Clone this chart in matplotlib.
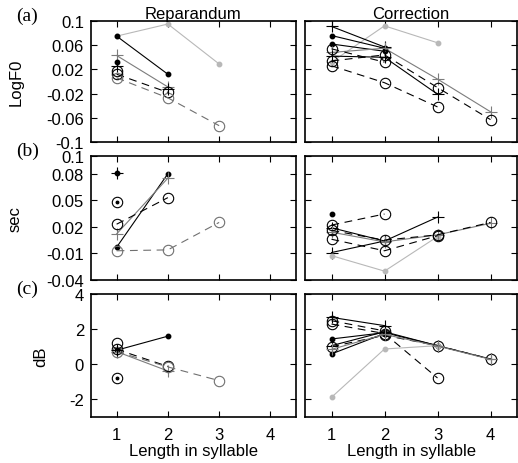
import numpy as np
import matplotlib
matplotlib.use("Agg")
from matplotlib import pyplot as plt

nan = np.nan

LENGTH = [1, 2, 3, 4]
XTICKS = [1, 2, 3, 4]
XTICKLABELS = ["1", "2", "3", "4"]
COLUMNS = ["Reparandum", "Correction"]
ROW_TAGS = ["(a)", "(b)", "(c)"]
ROW_UNITS = ["LogF0", "sec", "dB"]
XLABEL = "Length in syllable"

F0_TICKS = [-0.1, -0.06, -0.02, 0.02, 0.06, 0.1]
F0_TICKLABELS = ["-0.1", "-0.06", "-0.02", "0.02", "0.06", "0.1"]
DUR_TICKS = [-0.04, -0.01, 0.02, 0.05, 0.08, 0.1]
DUR_TICKLABELS = ["-0.04", "-0.01", "0.02", "0.05", "0.08", "0.1"]
DB_TICKS = [-2, 0, 2, 4]
DB_TICKLABELS = ["-2", "0", "2", "4"]

# (a) LogF0 - reparandum
f0_rep_gdot = [0.075, 0.095, 0.029, nan]
f0_rep_kdot = [0.075, 0.012, nan, nan]
f0_rep_gplus = [0.043, -0.009, nan, nan]
f0_rep_kcirc = [0.012, -0.018, nan, nan]
f0_rep_gcirc = [0.006, -0.027, -0.073, nan]
f0_rep_kdot_pt = [0.032, nan, nan, nan]
f0_rep_kplus_pt = [0.026, -0.012, nan, nan]
f0_rep_circ_pt = [0.018, nan, nan, nan]

# (a) LogF0 - correction
f0_cor_gdot = [0.032, 0.092, 0.064, nan]
f0_cor_kplus = [0.091, 0.057, nan, nan]
f0_cor_kdot = [0.076, 0.055, nan, nan]
f0_cor_kdot2 = [0.062, 0.050, nan, nan]
f0_cor_gplus = [0.048, 0.055, 0.004, -0.050]
f0_cor_kplus2 = [0.042, 0.040, -0.021, nan]
f0_cor_kcirc = [0.034, 0.044, -0.010, -0.063]
f0_cor_kcirc2 = [0.026, -0.002, -0.042, nan]
f0_cor_kcirc3 = [0.054, 0.032, nan, nan]

# (b) duration - reparandum
dur_rep_kdot = [-0.003, 0.080, nan, nan]
dur_rep_gplus = [0.012, 0.075, nan, nan]
dur_rep_kcirc = [0.023, 0.053, nan, nan]
dur_rep_gcirc = [-0.007, -0.006, 0.025, nan]
dur_rep_kdot_pt = [0.081, nan, nan, nan]
dur_rep_cdot_pt = [0.048, nan, nan, nan]

# (b) duration - correction
dur_cor_kdot_pt = [0.0345, nan, nan, nan]
dur_cor_kcirc = [0.022, 0.0345, nan, nan]
dur_cor_kplus = [-0.009, 0.004, 0.031, nan]
dur_cor_gdot = [-0.0125, -0.030, 0.009, nan]
dur_cor_kplus2 = [0.019, 0.004, nan, nan]
dur_cor_gplus = [0.014, 0.003, 0.011, 0.024]
dur_cor_kcirc2 = [0.006, -0.007, 0.010, nan]
dur_cor_kcirc3 = [0.016, 0.005, 0.011, 0.025]

# (c) intensity - reparandum
db_rep_kdot = [0.80, 1.60, nan, nan]
db_rep_gplus = [0.72, -0.38, nan, nan]
db_rep_kcirc = [0.85, -0.12, nan, nan]
db_rep_gcirc = [0.72, -0.15, -0.93, nan]
db_rep_circ_pt = [1.19, nan, nan, nan]
db_rep_kplus_pt = [0.80, nan, nan, nan]
db_rep_cdot_pt = [-0.78, nan, nan, nan]

# (c) intensity - correction
db_cor_kplus = [2.67, 2.20, nan, nan]
db_cor_kcirc = [2.48, 1.90, nan, nan]
db_cor_kcirc2 = [2.29, 1.75, -0.78, nan]
db_cor_kdot = [1.44, 1.80, 1.06, nan]
db_cor_kplus2 = [1.06, 1.85, 1.06, 0.30]
db_cor_kdot2 = [0.59, 1.75, nan, nan]
db_cor_gdot = [-1.88, 0.87, 1.06, nan]
db_cor_kcirc3 = [1.00, 1.65, 1.06, 0.30]
db_cor_gplus = [0.85, 1.70, 1.04, 0.28]

DASH = (0, (7, 5))
STYLES = {
    "kdot": dict(color="k", ls="-", marker="o", ms=3.2, mfc="k", mec="k"),
    "gdot": dict(color="#b8b8b8", ls="-", marker="o", ms=3.2, mfc="#b8b8b8", mec="#b8b8b8"),
    "kplus": dict(color="k", ls="-", marker="+", ms=8, mew=0.8),
    "gplus": dict(color="#7c7c7c", ls="-", marker="+", ms=8, mew=0.8),
    "kcirc": dict(color="k", ls=DASH, marker="o", ms=7.5, mfc="none", mew=0.8),
    "gcirc": dict(color="#707070", ls=DASH, marker="o", ms=7.5, mfc="none", mew=0.8),
    "kdot_pt": dict(color="k", ls="none", marker="o", ms=3.2),
    "ctr_pt": dict(color="k", ls="none", marker="o", ms=1.8),
    "kplus_pt": dict(color="k", ls="none", marker="+", ms=8, mew=0.8),
    "circ_pt": dict(color="k", ls="none", marker="o", ms=7.5, mfc="none", mew=0.8),
}

panels = [
    [[(f0_rep_gdot, "gdot"), (f0_rep_kdot, "kdot"), (f0_rep_gplus, "gplus"),
      (f0_rep_kcirc, "kcirc"), (f0_rep_gcirc, "gcirc"), (f0_rep_kdot_pt, "kdot_pt"),
      (f0_rep_kplus_pt, "kplus_pt"), (f0_rep_circ_pt, "circ_pt")],
     [(f0_cor_gdot, "gdot"), (f0_cor_kplus, "kplus"), (f0_cor_kdot, "kdot"),
      (f0_cor_kdot2, "kdot"), (f0_cor_gplus, "gplus"), (f0_cor_kplus2, "kplus"),
      (f0_cor_kcirc, "kcirc"), (f0_cor_kcirc2, "kcirc"), (f0_cor_kcirc3, "kcirc")]],
    [[(dur_rep_kdot, "kdot"), (dur_rep_gplus, "gplus"), (dur_rep_kcirc, "kcirc"),
      (dur_rep_gcirc, "gcirc"), (dur_rep_kdot_pt, "kdot_pt"), (dur_rep_kdot_pt, "kplus_pt"),
      (dur_rep_cdot_pt, "circ_pt"), (dur_rep_cdot_pt, "ctr_pt")],
     [(dur_cor_kdot_pt, "kdot_pt"), (dur_cor_kcirc, "kcirc"), (dur_cor_kplus, "kplus"),
      (dur_cor_gdot, "gdot"), (dur_cor_kplus2, "kplus"), (dur_cor_gplus, "gplus"),
      (dur_cor_kcirc2, "kcirc"), (dur_cor_kcirc3, "kcirc")]],
    [[(db_rep_kdot, "kdot"), (db_rep_gplus, "gplus"), (db_rep_kcirc, "kcirc"),
      (db_rep_gcirc, "gcirc"), (db_rep_circ_pt, "circ_pt"), (db_rep_kplus_pt, "kplus_pt"),
      (db_rep_cdot_pt, "circ_pt"), (db_rep_cdot_pt, "ctr_pt")],
     [(db_cor_kplus, "kplus"), (db_cor_kcirc, "kcirc"), (db_cor_kcirc2, "kcirc"),
      (db_cor_kdot, "kdot"), (db_cor_kplus2, "kplus"), (db_cor_kdot2, "kdot"),
      (db_cor_gdot, "gdot"), (db_cor_kcirc3, "kcirc"), (db_cor_gplus, "gplus")]],
]

yticks = [(F0_TICKS, F0_TICKLABELS), (DUR_TICKS, DUR_TICKLABELS), (DB_TICKS, DB_TICKLABELS)]
ylims = [(-0.1, 0.1), (-0.04, 0.1), (-3, 4)]
ylabel_x = [24, 23, 48]

plt.rcParams["font.family"] = ["Liberation Sans", "DejaVu Sans"]
plt.rcParams["lines.linewidth"] = 0.8

fig = plt.figure(figsize=(5.18, 4.64), dpi=100)

W, H = 518.0, 464.0
col_x = [(91, 296), (305, 517)]
row_y = [(22, 143), (157, 281), (295, 418)]

for r in range(3):
    for c in range(2):
        x0, x1 = col_x[c]
        y0, y1 = row_y[r]
        ax = fig.add_axes([x0 / W, 1 - y1 / H, (x1 - x0) / W, (y1 - y0) / H])
        for values, kind in panels[r][c]:
            ax.plot(LENGTH, values, **STYLES[kind])
        ax.set_xlim(0.5, 4.5)
        ax.set_ylim(*ylims[r])
        ax.set_xticks(XTICKS)
        ax.set_xticklabels(XTICKLABELS)
        ax.set_yticks(yticks[r][0])
        ax.set_yticklabels(yticks[r][1])
        ax.tick_params(direction="in", top=True, right=True, length=4, width=0.8,
                       labelsize=12)
        ax.tick_params(axis="x", pad=7)
        ax.tick_params(axis="y", pad=5)
        for sp in ax.spines.values():
            sp.set_linewidth(1.2)
        if c == 1:
            ax.tick_params(labelleft=False)
        else:
            ax.set_ylabel(ROW_UNITS[r], fontsize=12)
            ax.yaxis.set_label_coords((ylabel_x[r] - x0) / (x1 - x0), 0.5)
        if r < 2:
            ax.tick_params(labelbottom=False)
        else:
            ax.set_xlabel(XLABEL, fontsize=12, labelpad=1)
        if r == 0:
            ax.set_title(COLUMNS[c], fontsize=12, pad=2)

for r in range(3):
    fig.text(16 / W, 1 - (row_y[r][0] - 6) / H, ROW_TAGS[r], fontsize=14,
             family="Liberation Serif", ha="left", va="center")

fig.savefig("out.png", dpi=100)
